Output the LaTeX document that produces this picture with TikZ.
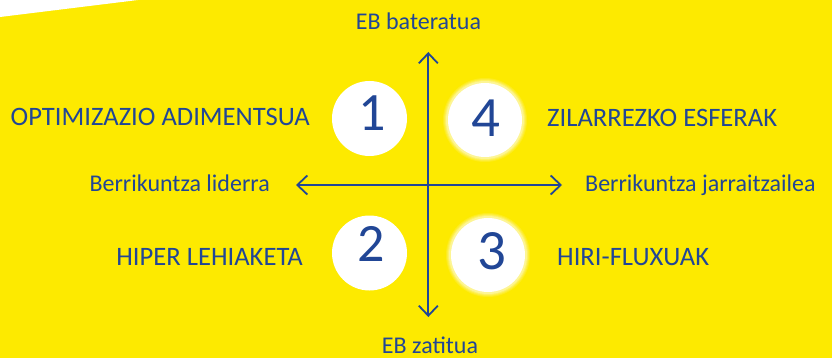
\documentclass[tikz,border=0pt]{standalone}
\usepackage{fontspec}
\setmainfont{Carlito}
\usetikzlibrary{arrows.meta}
\definecolor{bgyellow}{RGB}{253,234,0}
\definecolor{ebblue}{RGB}{33,70,150}
\tikzset{
  quadlabel/.style={inner sep=0pt, text=ebblue, font=\fontsize{26.6}{26.6}\selectfont, text height=17.1pt, text depth=0pt},
  axislabel/.style={inner sep=0pt, text=ebblue, font=\fontsize{24}{24}\selectfont, text height=15.4pt, text depth=0pt},
  numdisc/.style={circle, fill=white, draw=none, inner sep=0pt, minimum size=75pt},
  numtext/.style={inner sep=0pt, text=ebblue, text height=34pt, text depth=0pt},
  axisline/.style={draw=ebblue, line width=2pt, {Straight Barb[length=10pt,width=19pt,line width=1.8pt]}-{Straight Barb[length=10pt,width=19pt,line width=1.8pt]}},
}
\newcommand{\softdisc}[1]{%
  \foreach \rr/\op in {42/0.12, 41/0.15, 40/0.2, 39/0.3}{\fill[white, opacity=\op] #1 circle (\rr);}%
}
\begin{document}
\begin{tikzpicture}[x=1pt,y=-1pt]
\useasboundingbox (0,0) rectangle (832,358);
\fill[bgyellow] (0,0) rectangle (832,358);
\fill[white] (0,0) -- (138,0) -- (0,17) -- cycle;
% circles
\node[numdisc] (c1) at (369.5,118.5) {};
\node[numdisc] (c2) at (369.5,253) {};
\softdisc{(485,120)}
\node[numdisc, minimum size=74pt] (c4) at (485,120) {};
\softdisc{(488,255)}
\node[numdisc, minimum size=74pt] (c3) at (488,255) {};
% digits
\node[numtext, font=\fontsize{54}{54}\selectfont] (n1) at (372.5,114) {1};
\node[numtext, font=\fontsize{54}{54}\selectfont] (n2) at (371.5,244) {2};
\node[numtext, font=\fontsize{57}{57}\selectfont, text height=36pt] (n3) at (491.5,251.5) {3};
\node[numtext, font=\fontsize{57}{57}\selectfont, text height=36pt] (n4) at (485.5,119) {4};
% axes
\coordinate (top) at (428.3,52);
\coordinate (bottom) at (428.3,317);
\coordinate (left) at (296,185);
\coordinate (right) at (562,185);
\draw[axisline] (top) -- (bottom);
\draw[axisline] (left) -- (right);
% axis labels
\node[axislabel] (lt) at (418.5,22) {EB bateratua};
\node[axislabel] (lb) at (430,346) {EB zatitua};
\node[axislabel, anchor=east] (ll) at (270,183.5) {Berrikuntza liderra};
\node[axislabel, anchor=west] (lr) at (585,183.5) {Berrikuntza jarraitzailea};
% quadrant labels
\node[quadlabel, anchor=east] (q1) at (310,116.5) {OPTIMIZAZIO ADIMENTSUA};
\node[quadlabel, anchor=west] (q4) at (547,117.5) {ZILARREZKO ESFERAK};
\node[quadlabel, anchor=east] (q2) at (303,256.5) {HIPER LEHIAKETA};
\node[quadlabel, anchor=west] (q3) at (557,256.5) {HIRI-FLUXUAK};
\end{tikzpicture}
\end{document}
